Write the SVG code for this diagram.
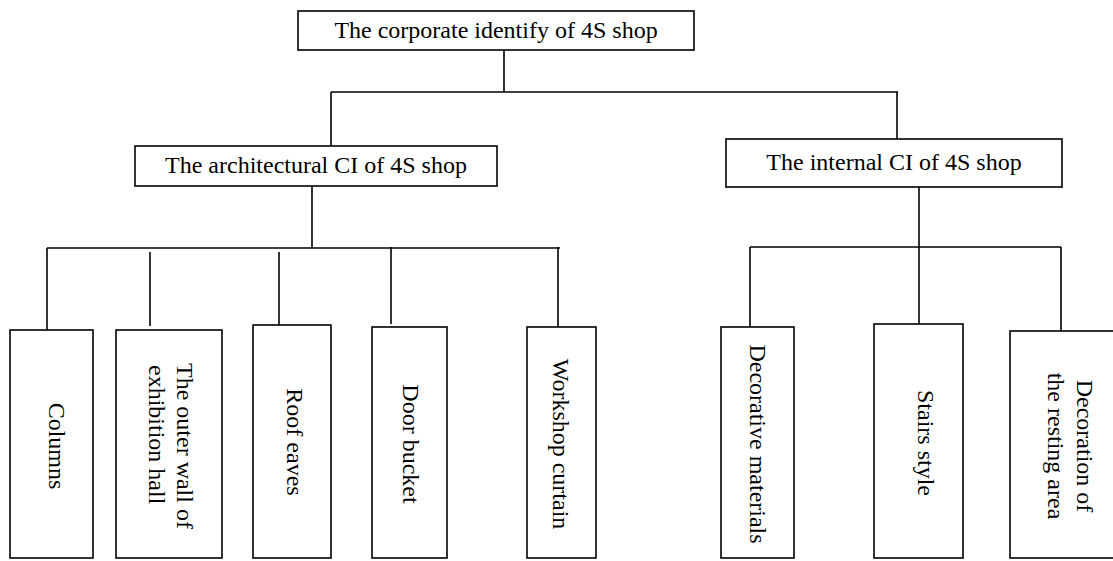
<svg xmlns="http://www.w3.org/2000/svg" width="1113" height="561" viewBox="0 0 1113 561">
<style>
.box{fill:#fff;stroke:#000;stroke-width:1.6}
.t{font-family:"Liberation Serif","Times New Roman",serif;font-size:24px;fill:#000}
.c{text-anchor:middle}
#connectors line{stroke:#000;stroke-width:1.6}
</style>
<rect width="1113" height="561" fill="#fff"/>
<g id="connectors">
<line x1="504" y1="50" x2="504" y2="92"/>
<line x1="331" y1="92" x2="898" y2="92"/>
<line x1="331" y1="92" x2="331" y2="146"/>
<line x1="897" y1="92" x2="897" y2="139"/>
<line x1="312" y1="186" x2="312" y2="248"/>
<line x1="47" y1="248" x2="560" y2="248"/>
<line x1="47" y1="248" x2="47" y2="330"/>
<line x1="150" y1="252" x2="150" y2="326"/>
<line x1="279" y1="252" x2="279" y2="325"/>
<line x1="391" y1="247" x2="391" y2="324"/>
<line x1="558" y1="247" x2="558" y2="330"/>
<line x1="919" y1="187" x2="919" y2="324"/>
<line x1="750" y1="247" x2="1061" y2="247"/>
<line x1="750" y1="247" x2="750" y2="327"/>
<line x1="1061" y1="247" x2="1061" y2="331"/>
</g>
<g id="root">
<rect class="box" x="298" y="11" width="396" height="39"/>
<text class="t c" x="496" y="38">The corporate identify of 4S shop</text>
</g>
<g id="architectural">
<rect class="box" x="135" y="146" width="362" height="40"/>
<text class="t c" x="316" y="173">The architectural CI of 4S shop</text>
</g>
<g id="internal">
<rect class="box" x="726" y="139" width="336" height="48"/>
<text class="t c" x="894" y="170">The internal CI of 4S shop</text>
</g>
<g id="columns">
<rect class="box" x="10" y="330" width="83" height="228"/>
<text class="t c" transform="translate(49,446) rotate(90)">Columns</text>
</g>
<g id="outer-wall">
<rect class="box" x="116" y="330" width="106" height="228"/>
<text class="t" transform="translate(177,363) rotate(90)">The outer wall of</text>
<text class="t" transform="translate(148.5,365) rotate(90)">exhibition hall</text>
</g>
<g id="roof-eaves">
<rect class="box" x="253" y="325" width="78" height="233"/>
<text class="t c" transform="translate(287,442) rotate(90)">Roof eaves</text>
</g>
<g id="door-bucket">
<rect class="box" x="372" y="327" width="75" height="231"/>
<text class="t c" transform="translate(403,444) rotate(90)">Door bucket</text>
</g>
<g id="workshop-curtain">
<rect class="box" x="527" y="327" width="69" height="231"/>
<text class="t c" transform="translate(553,444) rotate(90)">Workshop curtain</text>
</g>
<g id="decorative-materials">
<rect class="box" x="721" y="327" width="73" height="231"/>
<text class="t c" transform="translate(750,444) rotate(90)">Decorative materials</text>
</g>
<g id="stairs-style">
<rect class="box" x="874" y="324" width="89" height="234"/>
<text class="t c" transform="translate(918,443) rotate(90)">Stairs style</text>
</g>
<g id="resting-area">
<rect class="box" x="1010" y="331" width="110" height="227"/>
<text class="t c" transform="translate(1077,446) rotate(90)">Decoration of</text>
<text class="t c" transform="translate(1048,446) rotate(90)">the resting area</text>
</g>
</svg>
